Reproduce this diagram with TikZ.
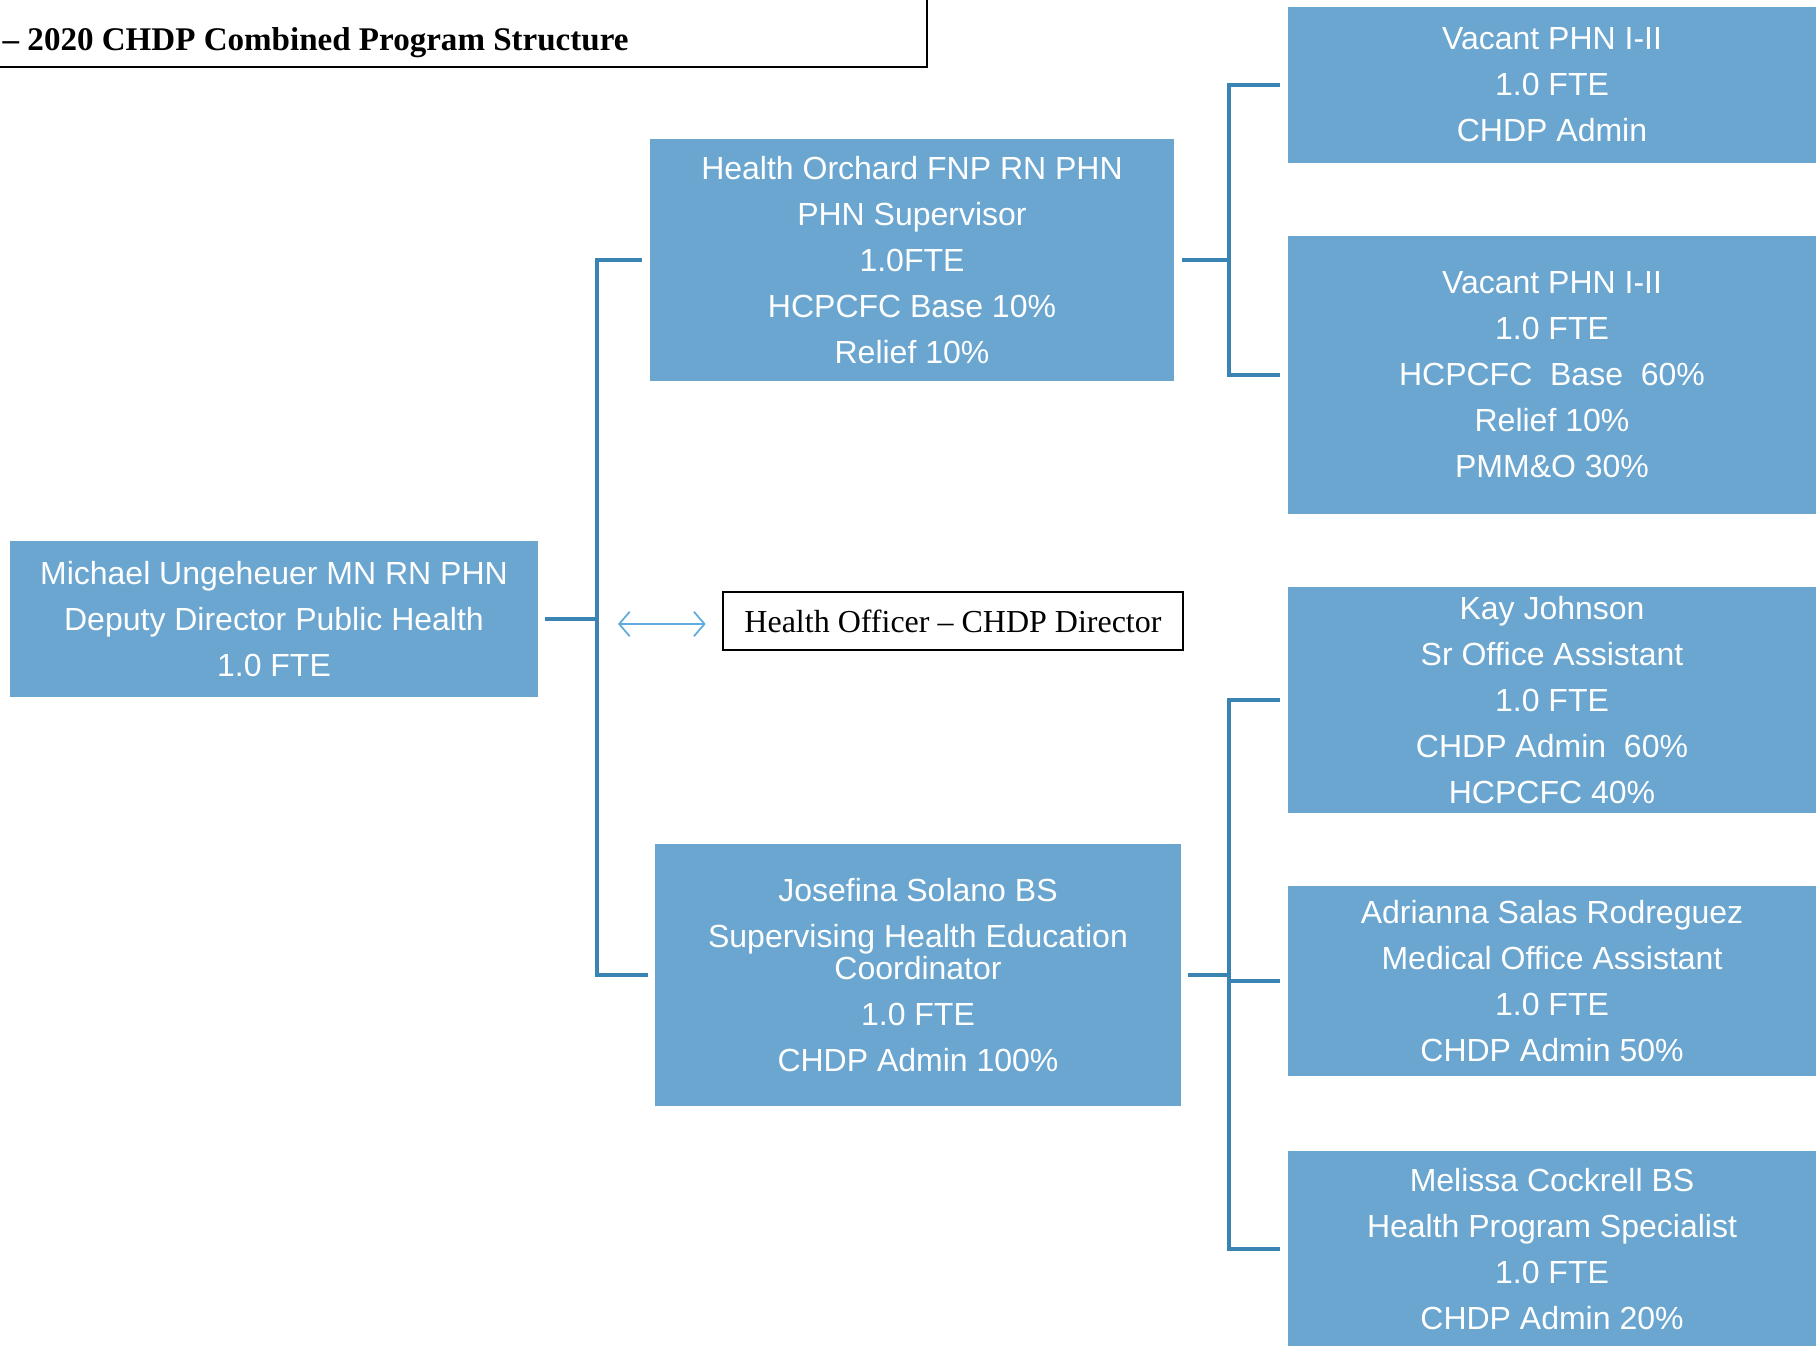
\documentclass[tikz,border=0pt]{standalone}
\usepackage{fontspec}
\setmainfont{Liberation Serif}
\newfontfamily\arialfont{Liberation Sans}
\usetikzlibrary{arrows.meta}
\definecolor{AzulCaja}{RGB}{106,166,208}
\definecolor{AzulLinea}{RGB}{58,132,180}
\definecolor{AzulFlecha}{RGB}{96,172,220}

\begin{document}
\begin{tikzpicture}[x=0.01cm, y=-0.01cm, >=Latex,
    puesto/.style={fill=AzulCaja, text=white, align=center, inner sep=0pt,
        font=\arialfont\fontsize{9.1}{13.1}\selectfont},
    enlace/.style={draw=AzulLinea, line width=1.1pt, shorten >=0.07cm},
    doble/.style={{Straight Barb[length=3pt,width=7pt]}-{Straight Barb[length=3pt,width=7pt]},
        AzulFlecha, line width=0.5pt}]
    \useasboundingbox (0,0) rectangle (1818,1346);
    \clip (0,0) rectangle (1818,1346);

    \draw[line width=0.8pt] (-20,-20) rectangle (927,67);
    \node[anchor=base west, inner sep=0pt, font=\bfseries\fontsize{9.4}{12}\selectfont]
        (titulo) at (2,51) {\textendash{} 2020 CHDP Combined Program Structure};

    \node[puesto, minimum width=5.28cm, minimum height=1.56cm] (michael) at (274,619)
        {Michael Ungeheuer MN RN PHN\\Deputy Director Public Health\\1.0 FTE};
    \node[puesto, minimum width=5.24cm, minimum height=2.42cm] (orchard) at (912,260)
        {Health Orchard FNP RN PHN\\PHN Supervisor\\1.0FTE\\HCPCFC Base 10\%\\Relief 10\%};
    \node[puesto, minimum width=5.25cm, minimum height=2.62cm] (josefina) at (918,975)
        {Josefina Solano BS\\Supervising Health Education\\[-4pt]Coordinator\\1.0 FTE\\CHDP Admin 100\%};
    \node[puesto, minimum width=5.28cm, minimum height=1.56cm] (vacante1) at (1552,85)
        {Vacant PHN I-II\\1.0 FTE\\CHDP Admin};
    \node[puesto, minimum width=5.28cm, minimum height=2.77cm] (vacante2) at (1552,375)
        {Vacant PHN I-II\\1.0 FTE\\HCPCFC\ \ Base\ \ 60\%\\Relief 10\%\\PMM\&O 30\%};
    \node[puesto, minimum width=5.28cm, minimum height=2.26cm] (kay) at (1552,700)
        {Kay Johnson\\Sr Office Assistant\\1.0 FTE\\CHDP Admin\ \ 60\%\\HCPCFC 40\%};
    \node[puesto, minimum width=5.28cm, minimum height=1.89cm] (adrianna) at (1552,981)
        {Adrianna Salas Rodreguez\\Medical Office Assistant\\1.0 FTE\\CHDP Admin 50\%};
    \node[puesto, minimum width=5.28cm, minimum height=1.96cm] (melissa) at (1552,1249)
        {Melissa Cockrell BS\\Health Program Specialist\\1.0 FTE\\CHDP Admin 20\%};

    \node[draw, line width=0.7pt, inner sep=0pt, minimum width=4.60cm, minimum height=0.58cm,
        font=\fontsize{9.1}{10}\selectfont] (oficial) at (953,621)
        {Health Officer \textendash{} CHDP Director};

    \coordinate (tronco) at (597,619);
    \coordinate (ramaA) at (1229,260);
    \coordinate (ramaB) at (1229,975);
    \coordinate (flecha) at (618,624);

    \draw[enlace, shorten >=0pt, shorten <=0.06cm] (michael.east) -- (tronco);
    \draw[enlace] (tronco) |- (orchard.west);
    \draw[enlace] (tronco) |- (josefina.west);
    \draw[enlace, shorten >=0pt, shorten <=0.07cm] (orchard.east) -- (ramaA);
    \draw[enlace] (ramaA) |- (vacante1.west);
    \draw[enlace] (ramaA) |- (vacante2.west);
    \draw[enlace, shorten >=0pt, shorten <=0.07cm] (josefina.east) -- (ramaB);
    \draw[enlace] (ramaB) |- (kay.west);
    \draw[enlace] (ramaB) |- (adrianna.west);
    \draw[enlace] (ramaB) |- (melissa.west);

    \draw[doble, shorten >=0.16cm] (flecha) -- (flecha -| oficial.west);
\end{tikzpicture}
\end{document}
